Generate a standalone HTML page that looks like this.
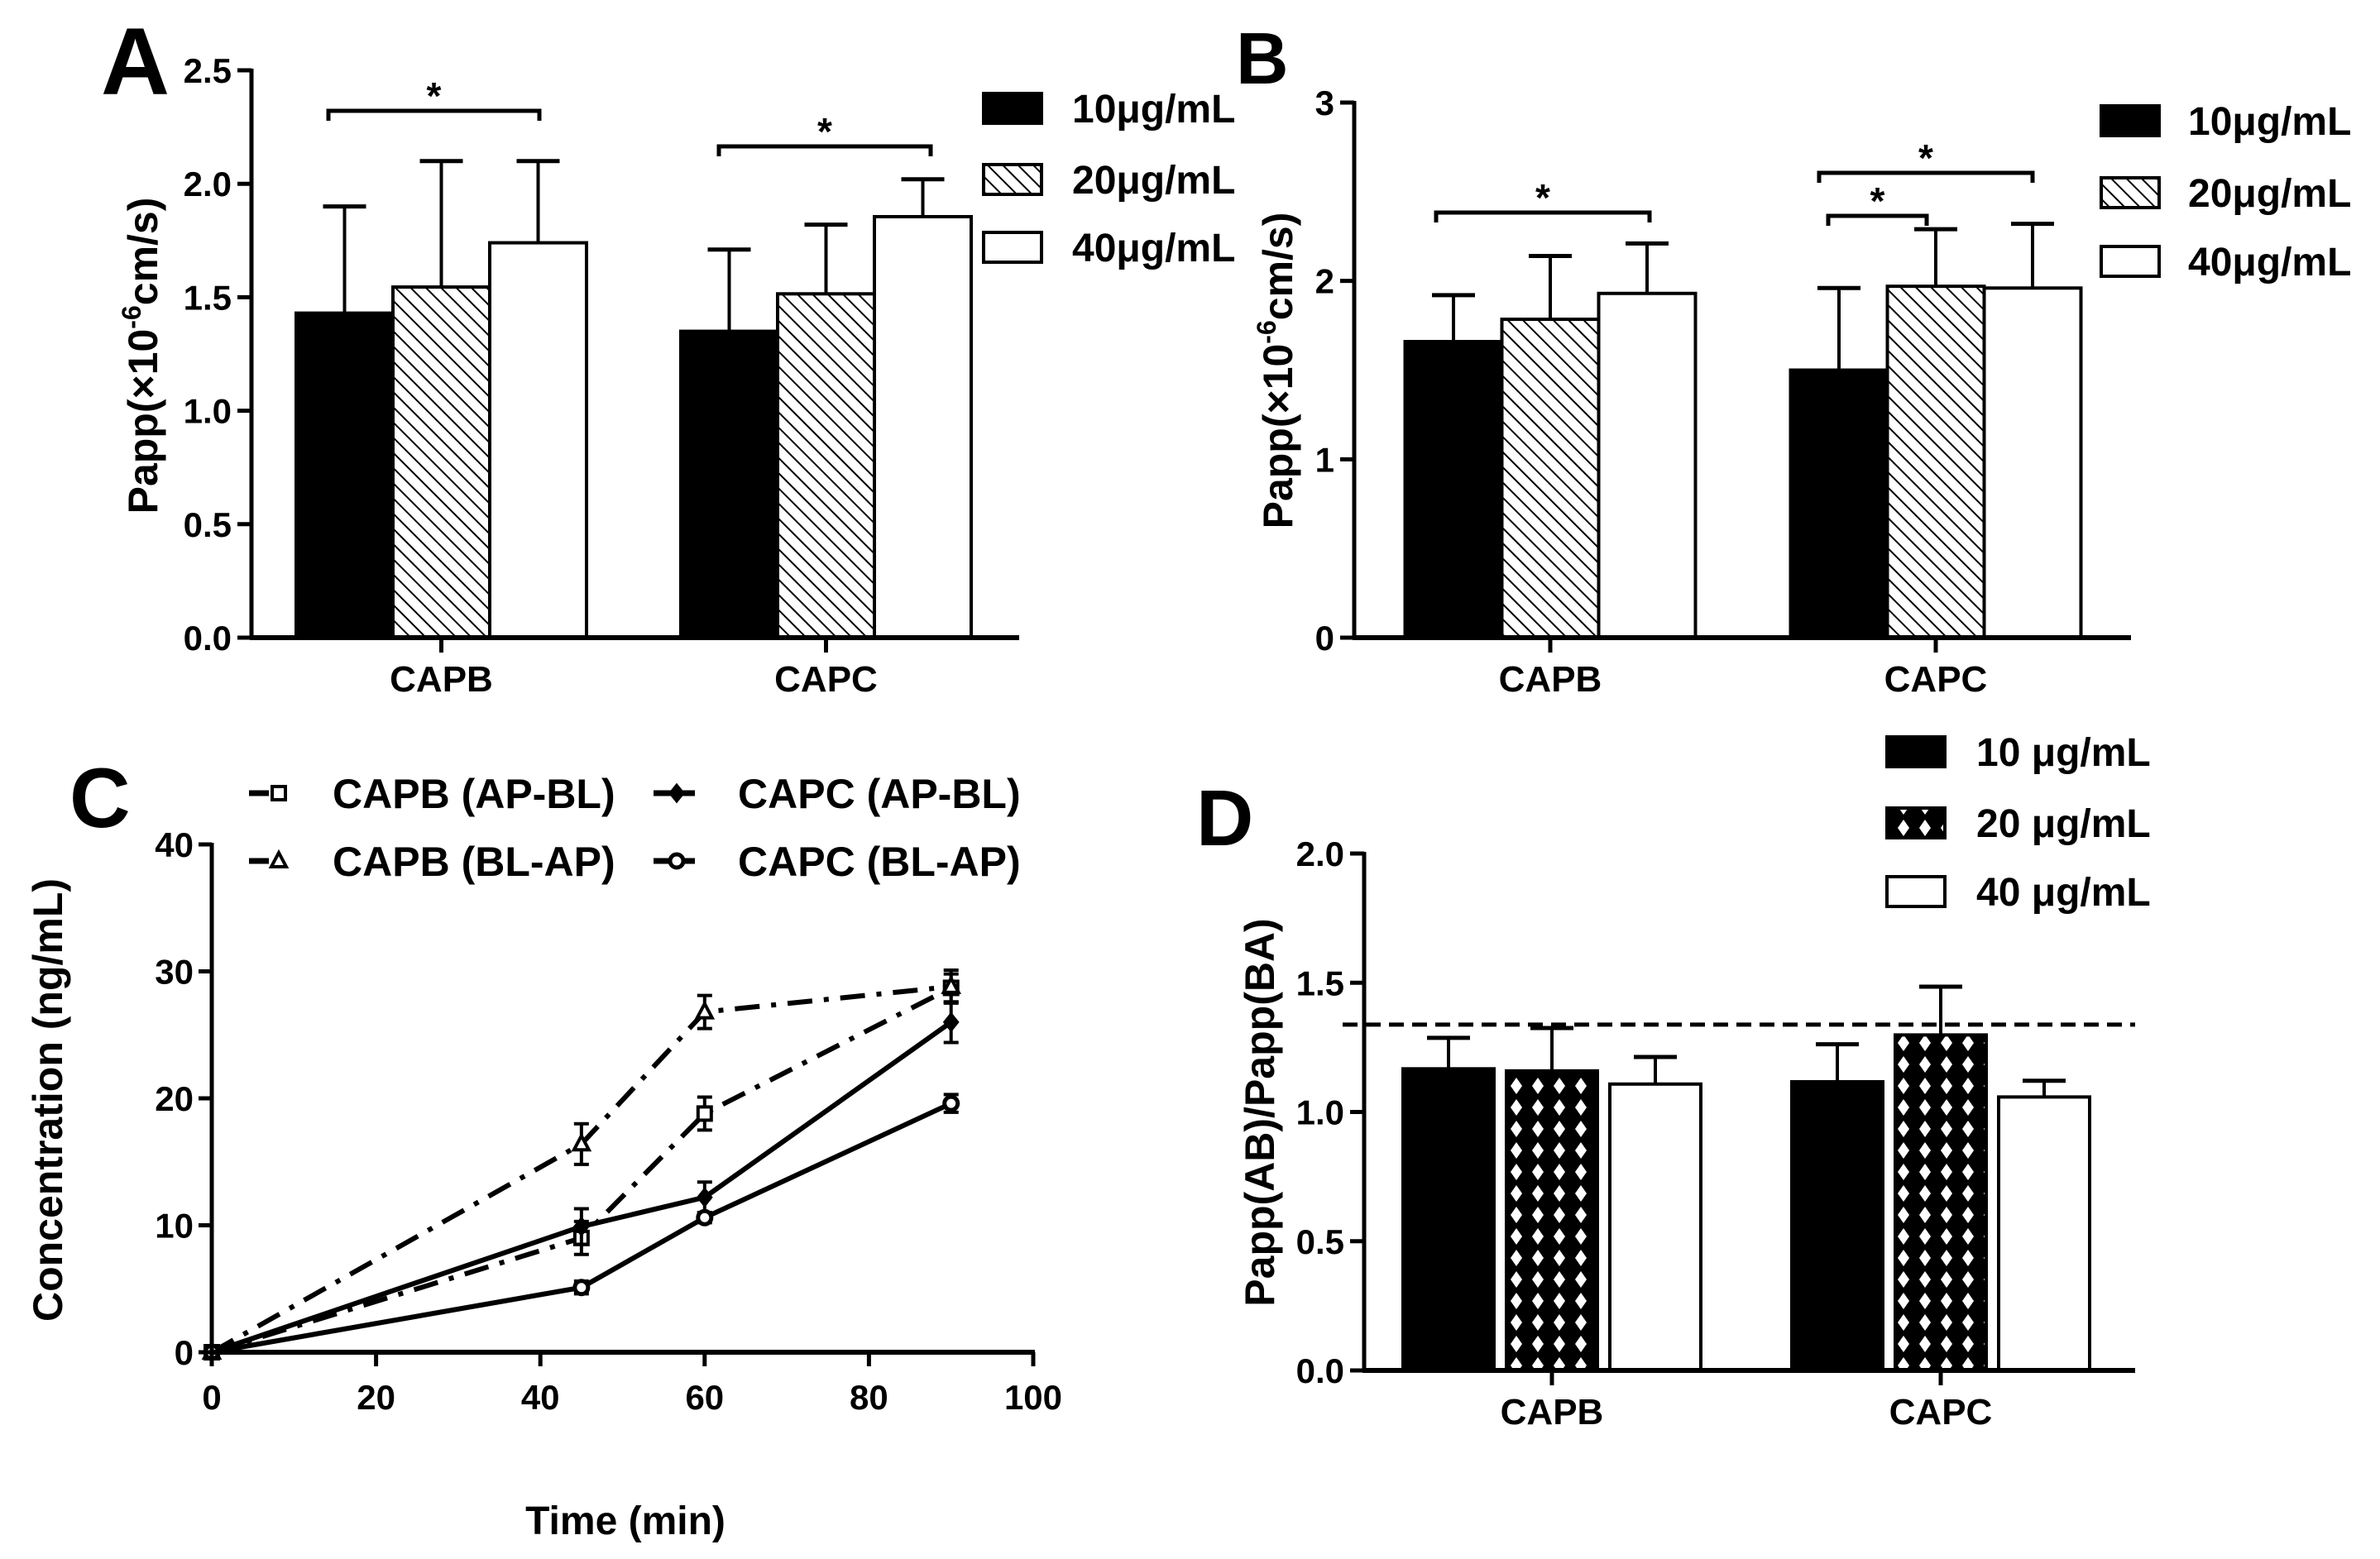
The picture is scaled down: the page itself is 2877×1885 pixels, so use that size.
<!DOCTYPE html>
<html><head><meta charset="utf-8"><style>
html,body{margin:0;padding:0;background:#fff;}
svg{display:block;font-family:"Liberation Sans",Arial,sans-serif;font-weight:bold;}
</style></head>
<body>
<svg id="fig" xmlns="http://www.w3.org/2000/svg" width="2877" height="1885" viewBox="0 0 2877 1885">
<defs>
<pattern id="hatch" patternUnits="userSpaceOnUse" width="13" height="13" patternTransform="rotate(-45)">
<rect width="13" height="13" fill="#fff"/>
<line x1="0" y1="0" x2="0" y2="13" stroke="#000" stroke-width="4"/>
</pattern>
<pattern id="cross" patternUnits="userSpaceOnUse" width="26" height="26">
<rect width="26" height="26" fill="#000"/>
<polygon points="13,3 20,13 13,23 6,13" fill="#fff"/>
</pattern>
</defs>
<g>
<text x="122" y="114" font-size="115">A</text>
<text x="1494" y="101" font-size="88">B</text>
<text x="84" y="1000" font-size="102">C</text>
<text x="1446" y="1022" font-size="96">D</text>
</g>
</svg>
<script>
const categories=['CAPB','CAPC'];
const concLabels=['10μg/mL','20μg/mL','40μg/mL'];
const concLabelsD=['10 μg/mL','20 μg/mL','40 μg/mL'];
const aMean10=[1.43,1.35], aMean20=[1.545,1.515], aMean40=[1.74,1.855];
const aErr10=[0.47,0.36], aErr20=[0.555,0.305], aErr40=[0.36,0.165];
const aTicks=[0,0.5,1,1.5,2,2.5];
const aTickLabels=['0.0','0.5','1.0','1.5','2.0','2.5'];
const bMean10=[1.66,1.50], bMean20=[1.785,1.97], bMean40=[1.93,1.96];
const bErr10=[0.26,0.46], bErr20=[0.355,0.32], bErr40=[0.28,0.36];
const bTicks=[0,1,2,3];
const bTickLabels=['0','1','2','3'];
const dMean10=[1.167,1.117], dMean20=[1.159,1.298], dMean40=[1.108,1.058];
const dErr10=[0.12,0.145], dErr20=[0.166,0.187], dErr40=[0.105,0.063];
const dRef=1.338;
const dTicks=[0,0.5,1,1.5,2];
const dTickLabels=['0.0','0.5','1.0','1.5','2.0'];
const times=[0,45,60,90];
const capbApBl=[0,9,18.8,28.7], capbApBlErr=[0,1.3,1.3,1.1];
const capbBlAp=[0,16.4,26.8,28.8], capbBlApErr=[0,1.6,1.3,1.3];
const capcApBl=[0,9.9,12.2,26], capcApBlErr=[0,1.4,1.2,1.6];
const capcBlAp=[0,5.1,10.6,19.6], capcBlApErr=[0,0.5,0.4,0.7];
const cYTicks=[0,10,20,30,40];
const cXTicks=[0,20,40,60,80,100];

const NS='http://www.w3.org/2000/svg';
const svg=document.getElementById('fig');
function mk(tag,attrs,parent){const e=document.createElementNS(NS,tag);for(const k in attrs)e.setAttribute(k,attrs[k]);(parent||svg).appendChild(e);return e;}
function txt(s,attrs,parent){const e=mk('text',attrs,parent);e.textContent=s;return e;}

function barPanel(p){
  const g=mk('g',{});
  
  
  const y=v=>p.y0-(v/p.max)*(p.y0-p.yTop);
  const xc=i=>p.bandStart+(i+0.5)*p.bandW;
  const fills=['#000',p.pat,'#fff'];
  const means=p.means, errs=p.errs;
  for(let s=0;s<3;s++){
    for(let i=0;i<categories.length;i++){
      const cx=xc(i)+(s-1)*p.step;
      const top=y(means[s][i]);
      const eb=mk('line',{x1:cx,x2:cx,y1:top,y2:y(means[s][i]+errs[s][i]),stroke:'#000','stroke-width':4},g);
      
      
      const cap=mk('line',{x1:cx-26,x2:cx+26,y1:y(means[s][i]+errs[s][i]),y2:y(means[s][i]+errs[s][i]),stroke:'#000','stroke-width':5},g);
      
      
      const r=mk('rect',{x:cx-p.bw/2,y:top,width:p.bw,height:p.y0-top,fill:fills[s],stroke:'#000','stroke-width':4},g);
      
      
    }
  }
  const ya=mk('line',{x1:p.x0,x2:p.x0,y1:p.yTop-2,y2:p.y0+2,stroke:'#000','stroke-width':5},g);
  
  
  const xa=mk('line',{x1:p.x0-2,x2:p.x1,y1:p.y0,y2:p.y0,stroke:'#000','stroke-width':6},g);
  
  
  p.ticks.forEach((t,k)=>{
    const tk=mk('line',{x1:p.x0-17,x2:p.x0,y1:y(t),y2:y(t),stroke:'#000','stroke-width':5},g);
    
    
    const tl=txt(p.tickLabels[k],{x:p.x0-24,y:y(t)+15,'font-size':42,'text-anchor':'end'},g);
    
    
  });
  categories.forEach((c,i)=>{
    const tk=mk('line',{x1:xc(i),x2:xc(i),y1:p.y0,y2:p.y0+18,stroke:'#000','stroke-width':5},g);
    
    
    const tl=txt(c,{x:xc(i),y:p.catY,'font-size':44,'text-anchor':'middle'},g);
    
    
  });
  p.legendY.forEach((ly,k)=>{
    const lb=mk('rect',{x:p.legX,y:ly,width:70,height:36,fill:fills[k],stroke:'#000','stroke-width':4},g);
    
    
    const lt=txt(p.legLabels[k],{x:p.legTextX,y:ly+35,'font-size':48},g);
    
    
  });
  const tt=mk('text',{transform:'translate('+p.titleX+','+p.titleY+') rotate(-90)','font-size':50,'text-anchor':'middle'},g);
  
  
  if(p.sup){
    const a=document.createElementNS(NS,'tspan');a.textContent='Papp(×10';tt.appendChild(a);
    const b=document.createElementNS(NS,'tspan');b.textContent='-6';b.setAttribute('font-size','32');b.setAttribute('dy','-20');tt.appendChild(b);
    const c=document.createElementNS(NS,'tspan');c.textContent='cm/s)';c.setAttribute('dy','20');tt.appendChild(c);
  } else tt.textContent=p.title;
  (p.brackets||[]).forEach(br=>{
    const pl=mk('polyline',{points:br[0]+','+(br[2]+12)+' '+br[0]+','+br[2]+' '+br[1]+','+br[2]+' '+br[1]+','+(br[2]+12),fill:'none',stroke:'#000','stroke-width':5},g);
    
    
    const st=txt('*',{x:(br[0]+br[1])/2,y:br[2]-2,'font-size':46,'text-anchor':'middle'},g);
    
    
  });
  return {g,y,xc};
}

barPanel({name:'panel-a',x0:304,x1:1232,y0:771,yTop:85,max:2.5,bandStart:301,bandW:465,step:117,bw:117,
  pat:'url(#hatch)',means:[aMean10,aMean20,aMean40],errs:[aErr10,aErr20,aErr40],ticks:aTicks,tickLabels:aTickLabels,
  catY:836,legendY:[113,199,281],legX:1189,legTextX:1296,legLabels:concLabels,titleX:190,titleY:430,sup:true,
  brackets:[[397,652,134],[869,1125,177]]});
barPanel({name:'panel-b',x0:1637,x1:2576,y0:771,yTop:124,max:3,bandStart:1641,bandW:466,step:117,bw:117,
  pat:'url(#hatch)',means:[bMean10,bMean20,bMean40],errs:[bErr10,bErr20,bErr40],ticks:bTicks,tickLabels:bTickLabels,
  catY:836,legendY:[128,215,298],legX:2540,legTextX:2645,legLabels:concLabels,titleX:1562,titleY:448,sup:true,
  brackets:[[1736,1994,257],[2210,2329,261],[2199,2457,209]]});
const D=barPanel({name:'panel-d',x0:1649,x1:2581,y0:1657,yTop:1032,max:2,bandStart:1641,bandW:470,step:125,bw:110,
  pat:'url(#cross)',means:[dMean10,dMean20,dMean40],errs:[dErr10,dErr20,dErr40],ticks:dTicks,tickLabels:dTickLabels,
  catY:1722,legendY:[891,977,1060],legX:2281,legTextX:2389,legLabels:concLabelsD,titleX:1540,titleY:1345,title:'Papp(AB)/Papp(BA)'});
const refLine=mk('line',{x1:1623,x2:2581,y1:D.y(dRef),y2:D.y(dRef),stroke:'#000','stroke-width':5,'stroke-dasharray':'18,10'},D.g);



// Panel C
const gc=mk('g',{});


const cx0=256,cx1=1249,cy0=1635,cyTop=1021;
const cX=v=>cx0+(v/100)*(cx1-cx0);
const cY=v=>cy0-(v/40)*(cy0-cyTop);
const series=[
  {n:'capb-ap-bl',d:capbApBl,e:capbApBlErr,dash:'30,14,6,14',m:'square',label:'CAPB (AP-BL)',lx:301,ly:959},
  {n:'capb-bl-ap',d:capbBlAp,e:capbBlApErr,dash:'30,14,6,14',m:'triangle',label:'CAPB (BL-AP)',lx:301,ly:1041},
  {n:'capc-ap-bl',d:capcApBl,e:capcApBlErr,dash:'',m:'diamond',label:'CAPC (AP-BL)',lx:790,ly:959},
  {n:'capc-bl-ap',d:capcBlAp,e:capcBlApErr,dash:'',m:'circle',label:'CAPC (BL-AP)',lx:790,ly:1041}
];
function marker(type,x,y,parent){
  let e;
  if(type==='square') e=mk('rect',{x:x-8,y:y-8,width:16,height:16,fill:'#fff',stroke:'#000','stroke-width':4},parent);
  else if(type==='triangle') e=mk('polygon',{points:(x)+','+(y-10)+' '+(x+9)+','+(y+7)+' '+(x-9)+','+(y+7),fill:'#fff',stroke:'#000','stroke-width':4},parent);
  else if(type==='diamond') e=mk('polygon',{points:x+','+(y-10)+' '+(x+8)+','+y+' '+x+','+(y+10)+' '+(x-8)+','+y,fill:'#000',stroke:'#000','stroke-width':3},parent);
  else e=mk('circle',{cx:x,cy:y,r:8,fill:'#fff',stroke:'#000','stroke-width':5},parent);
  return e;
}
series.forEach(s=>{
  const pts=times.map((t,i)=>cX(t)+','+cY(s.d[i])).join(' ');
  const pl=mk('polyline',{points:pts,fill:'none',stroke:'#000','stroke-width':6,'stroke-dasharray':s.dash||'none'},gc);
  
  
  times.forEach((t,i)=>{
    if(s.e[i]>0){
      const eb=mk('path',{d:'M'+cX(t)+' '+cY(s.d[i]-s.e[i])+'V'+cY(s.d[i]+s.e[i])+'M'+(cX(t)-9)+' '+cY(s.d[i]+s.e[i])+'h18M'+(cX(t)-9)+' '+cY(s.d[i]-s.e[i])+'h18',stroke:'#000','stroke-width':4,fill:'none'},gc);
      
      
    }
    const mm=marker(s.m,cX(t),cY(s.d[i]),gc);
    
    
  });
  const ll=mk('line',{x1:s.lx,x2:s.lx+(s.dash?24:50),y1:s.ly,y2:s.ly,stroke:'#000','stroke-width':7},gc);
  
  
  const lm=marker(s.m,s.lx+(s.dash?36:28),s.ly,gc);
  
  
  const lt=txt(s.label,{x:s.lx+(s.dash?101:102),y:s.ly+18,'font-size':50},gc);
  
  
});
const cya=mk('line',{x1:cx0,x2:cx0,y1:cyTop-2,y2:cy0+3,stroke:'#000','stroke-width':5},gc);


const cxa=mk('line',{x1:cx0-2,x2:cx1+2,y1:cy0,y2:cy0,stroke:'#000','stroke-width':6},gc);


cYTicks.forEach(t=>{
  const tk=mk('line',{x1:cx0-16,x2:cx0,y1:cY(t),y2:cY(t),stroke:'#000','stroke-width':5},gc);
  
  
  const tl=txt(String(t),{x:cx0-22,y:cY(t)+15,'font-size':42,'text-anchor':'end'},gc);
  
  
});
cXTicks.forEach(t=>{
  const tk=mk('line',{x1:cX(t),x2:cX(t),y1:cy0,y2:cy0+17,stroke:'#000','stroke-width':5},gc);
  
  
  const tl=txt(String(t),{x:cX(t),y:1704,'font-size':42,'text-anchor':'middle'},gc);
  
  
});
const cxt=txt('Time (min)',{x:756,y:1855,'font-size':48,'text-anchor':'middle'},gc);


const cyt=txt('Concentration (ng/mL)',{transform:'translate(75,1330) rotate(-90)','font-size':50,'text-anchor':'middle'},gc);


</script>
</body></html>
